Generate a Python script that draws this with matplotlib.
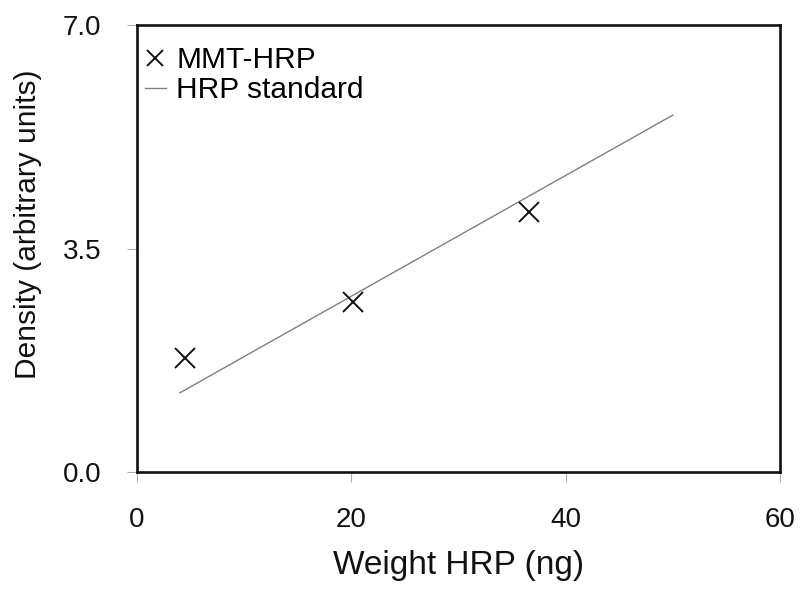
import matplotlib
matplotlib.use("Agg")
import matplotlib.pyplot as plt
import numpy as np

plt.rcParams['font.family'] = ['Liberation Sans', 'DejaVu Sans']

# measured MMT-HRP points
mmt_x = [4.5, 20.2, 36.6]
mmt_y = [1.78, 2.66, 4.07]

# HRP standard line end points
std_x = [4.0, 50.0]
std_y = [1.24, 5.59]

x_ticks = [0, 20, 40, 60]
y_ticks = [0.0, 3.5, 7.0]

fig = plt.figure(figsize=(8.04, 5.90), dpi=100)
ax = fig.add_axes([0.1704, 0.2, 0.7998, 0.7576])

ax.plot(std_x, std_y, color='#808080', lw=1.0, label='HRP standard', zorder=2)
ax.plot(mmt_x, mmt_y, ls='none', marker='x', ms=15, mew=1.4, color='#111111',
        label='MMT-HRP', zorder=3)

ax.set_xlim(0, 60)
ax.set_ylim(0, 7.0)
ax.set_xticks(x_ticks)
ax.set_yticks(y_ticks)
ax.set_yticklabels(['%.1f' % v for v in y_ticks])

for s in ax.spines.values():
    s.set_linewidth(1.9)
    s.set_color('#111111')

ax.tick_params(direction='out', length=7.5, width=0.8, color='#b0b0b0',
               labelsize=20, pad=18, labelcolor='#111111')

ax.set_xlabel('Weight HRP (ng)', fontsize=24, labelpad=12, color='#111111')
ax.set_ylabel('Density (arbitrary units)', fontsize=21.5, color='#111111')
ax.yaxis.set_label_coords(-0.148, 0.555)

h, l = ax.get_legend_handles_labels()
leg = ax.legend(h[::-1], l[::-1], loc='upper left', bbox_to_anchor=(0.012, 0.952),
                frameon=False, fontsize=21.5, handlelength=0.72, handletextpad=0.33,
                labelspacing=0.05, borderpad=0, borderaxespad=0, markerscale=0.75)

fig.savefig('out.png', dpi=100)
